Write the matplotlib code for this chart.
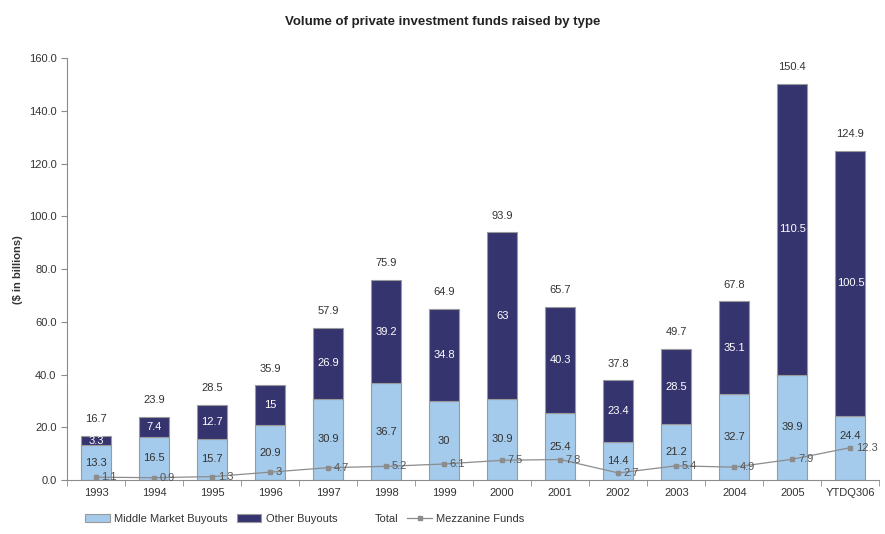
import numpy as np
import matplotlib.pyplot as plt
from matplotlib.lines import Line2D
from matplotlib.patches import Patch

plt.rcParams['font.family'] = ['Liberation Sans', 'DejaVu Sans']

years = ["1993", "1994", "1995", "1996", "1997", "1998", "1999", "2000",
         "2001", "2002", "2003", "2004", "2005", "YTDQ306"]
middle_market = [13.3, 16.5, 15.7, 20.9, 30.9, 36.7, 30, 30.9, 25.4, 14.4, 21.2, 32.7, 39.9, 24.4]
other_buyouts = [3.3, 7.4, 12.7, 15, 26.9, 39.2, 34.8, 63, 40.3, 23.4, 28.5, 35.1, 110.5, 100.5]
totals = [16.7, 23.9, 28.5, 35.9, 57.9, 75.9, 64.9, 93.9, 65.7, 37.8, 49.7, 67.8, 150.4, 124.9]
mezzanine = [1.1, 0.9, 1.3, 3, 4.7, 5.2, 6.1, 7.5, 7.8, 2.7, 5.4, 4.9, 7.9, 12.3]

light = "#a4caec"
dark = "#36346f"
grey = "#8c8c8c"
edge = "#9a9a9a"

fig = plt.figure(figsize=(8.85, 5.34), dpi=100)
ax = fig.add_axes([0.0757, 0.101, 0.918, 0.790])
x = np.arange(len(years))

ax.bar(x, middle_market, width=0.52, color=light, edgecolor=edge, linewidth=0.8)
ax.bar(x, other_buyouts, width=0.52, bottom=middle_market, color=dark,
       edgecolor=edge, linewidth=0.8)

for i in range(len(years)):
    # last bar: middle label sits a bit higher so it does not run into the mezzanine label
    ymid = middle_market[i] * (0.68 if i == len(years) - 1 else 0.5)
    ax.text(x[i], ymid, f"{middle_market[i]:g}", ha="center", va="center",
            fontsize=8, color="#333333")
    ax.text(x[i], middle_market[i] + other_buyouts[i] / 2, f"{other_buyouts[i]:g}",
            ha="center", va="center", fontsize=8, color="white")
    ax.annotate(f"{totals[i]:g}", (x[i], totals[i]), xytext=(0, 12), textcoords="offset points",
                ha="center", va="center", fontsize=8, color="#333333")

ax.plot(x, mezzanine, color=grey, linewidth=0.9, marker="s", markersize=3.5,
        markerfacecolor=grey, markeredgecolor=grey)
for i in range(len(years)):
    ax.annotate(f"{mezzanine[i]:g}", (x[i], mezzanine[i]), xytext=(4, 0), textcoords="offset points",
                ha="left", va="center", fontsize=8, color="#555555")

ax.set_xlim(-0.5, len(years) - 0.5)
ax.set_ylim(0, 160)
ax.set_yticks(np.arange(0, 161, 20))
ax.set_yticklabels([f"{v:.1f}" for v in np.arange(0, 161, 20)])
ax.set_xticks(x)
ax.set_xticklabels(years)
ax.set_xticks(np.arange(-0.5, len(years), 1), minor=True)
ax.tick_params(axis="x", which="major", length=0, labelsize=8, labelcolor="#333333", pad=6)
ax.tick_params(axis="x", which="minor", length=4, color=grey, direction="out")
ax.tick_params(axis="y", length=4, color=grey, labelsize=8, labelcolor="#333333")
for s in ["top", "right"]:
    ax.spines[s].set_visible(False)
for s in ["left", "bottom"]:
    ax.spines[s].set_color(grey)
ax.set_ylabel("($ in billions)", fontsize=8, fontweight="bold", color="#333333", labelpad=4)

fig.suptitle("Volume of private investment funds raised by type", fontsize=9.5,
             fontweight="bold", y=0.97, x=0.5, color="#222222")

handles = [Patch(facecolor=light, edgecolor=edge, linewidth=0.8),
           Patch(facecolor=dark, edgecolor=edge, linewidth=0.8),
           Line2D([], [], color="none"),
           Line2D([], [], color=grey, marker="s", markersize=3, linewidth=0.9)]
labels = ["Middle Market Buyouts", "Other Buyouts", "Total", "Mezzanine Funds"]
fig.legend(handles, labels, loc="lower left", bbox_to_anchor=(0.085, 0.0), ncol=4,
           frameon=False, fontsize=8, handlelength=2.2, handletextpad=0.4, columnspacing=0.8,
           labelcolor="#333333")

fig.savefig("out.png", dpi=100)
